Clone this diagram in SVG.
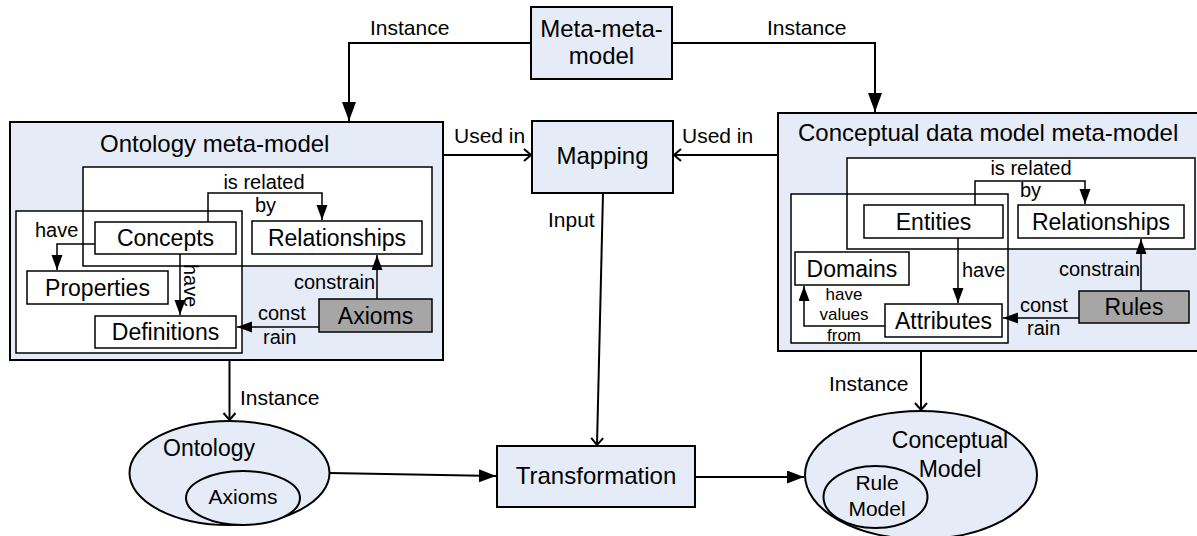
<svg xmlns="http://www.w3.org/2000/svg" width="1197" height="536" viewBox="0 0 1197 536">
  <style>
    .node { fill: #e6ecf7; stroke: #000; stroke-width: 2; }
    .box { fill: #fff; stroke: #000; stroke-width: 1.5; }
    .grey { fill: #a6a6a6; stroke: #000; stroke-width: 1.5; }
    .frame { fill: #fff; stroke: none; }
    .frameline { fill: none; stroke: #000; stroke-width: 1.5; }
    text { font-family: "Liberation Sans", Arial, sans-serif; fill: #000; }
    .big { font-size: 24px; }
    .mid { font-size: 23px; }
    .lbl { font-size: 21px; }
    .sm { font-size: 20px; }
    .xs { font-size: 17px; }
    .m { text-anchor: middle; }
    .c { fill: none; stroke: #000; stroke-width: 2; }
    .ci { fill: none; stroke: #000; stroke-width: 1.5; }
  </style>
  <defs>
    <marker id="arrowBig" markerUnits="userSpaceOnUse" markerWidth="20" markerHeight="16" refX="19" refY="7" orient="auto">
      <path d="M0,0 L19,7 L0,14 z" fill="#000"/>
    </marker>
    <marker id="arrowMed" markerUnits="userSpaceOnUse" markerWidth="18" markerHeight="14" refX="17" refY="6.5" orient="auto">
      <path d="M0,0 L17,6.5 L0,13 z" fill="#000"/>
    </marker>
    <marker id="arrowSm" markerUnits="userSpaceOnUse" markerWidth="16" markerHeight="12" refX="15" refY="5.5" orient="auto">
      <path d="M0,0 L15,5.5 L0,11 z" fill="#000"/>
    </marker>
    <marker id="arrowOpen" markerUnits="userSpaceOnUse" markerWidth="12" markerHeight="16" refX="8" refY="7" orient="auto">
      <path d="M1,1 L8,7 L1,13" fill="none" stroke="#000" stroke-width="2"/>
    </marker>
  </defs>

  <!-- top level meta-meta-model -->
  <g id="meta-meta-model">
    <rect class="node" x="531" y="7" width="141" height="72"/>
    <text class="big m" x="601.5" y="37">Meta-meta-</text>
    <text class="big m" x="601.5" y="64">model</text>
  </g>

  <!-- ontology meta-model container -->
  <g id="ontology-meta-model">
    <rect class="node" x="10" y="122" width="433" height="238"/>
    <text class="big" x="100" y="152">Ontology meta-model</text>
    <rect class="frame" x="83" y="167" width="349" height="99"/>
    <rect class="frame" x="16" y="211" width="226" height="142"/>
    <rect class="frameline" x="83" y="167" width="349" height="99"/>
    <rect class="frameline" x="16" y="211" width="226" height="142"/>
  </g>
  <g id="concepts">
    <rect class="box" x="95" y="222" width="141" height="32"/>
    <text class="mid m" x="165.5" y="246">Concepts</text>
  </g>
  <g id="ont-relationships">
    <rect class="box" x="252" y="221" width="170" height="33"/>
    <text class="mid m" x="337" y="246">Relationships</text>
  </g>
  <g id="properties">
    <rect class="box" x="27" y="271" width="141" height="33"/>
    <text class="mid m" x="97.5" y="296">Properties</text>
  </g>
  <g id="definitions">
    <rect class="box" x="95" y="316" width="141" height="32"/>
    <text class="mid m" x="165.5" y="340">Definitions</text>
  </g>
  <g id="ont-axioms">
    <rect class="grey" x="319" y="299" width="113" height="33"/>
    <text class="mid m" x="375.5" y="324">Axioms</text>
  </g>

  <!-- conceptual data model meta-model container -->
  <g id="cdm-meta-model">
    <rect class="node" x="778" y="113" width="430" height="238"/>
    <text class="big" x="798" y="141">Conceptual data model meta-model</text>
    <rect class="frame" x="847" y="158" width="348" height="91"/>
    <rect class="frame" x="791" y="194" width="217" height="149"/>
    <rect class="frameline" x="847" y="158" width="348" height="91"/>
    <rect class="frameline" x="791" y="194" width="217" height="149"/>
  </g>
  <g id="entities">
    <rect class="box" x="864" y="205" width="139" height="33"/>
    <text class="mid m" x="933.5" y="230">Entities</text>
  </g>
  <g id="cdm-relationships">
    <rect class="box" x="1018" y="205" width="166" height="33"/>
    <text class="mid m" x="1101" y="230">Relationships</text>
  </g>
  <g id="domains">
    <rect class="box" x="795" y="252" width="114" height="33"/>
    <text class="mid m" x="852" y="277">Domains</text>
  </g>
  <g id="attributes">
    <rect class="box" x="885" y="304" width="117" height="33"/>
    <text class="mid m" x="943.5" y="329">Attributes</text>
  </g>
  <g id="rules">
    <rect class="grey" x="1079" y="291" width="110" height="32"/>
    <text class="mid m" x="1134" y="315">Rules</text>
  </g>

  <!-- middle column -->
  <g id="mapping">
    <rect class="node" x="532" y="121" width="141" height="72"/>
    <text class="big m" x="602.5" y="164">Mapping</text>
  </g>
  <g id="transformation">
    <rect class="node" x="497" y="446" width="198" height="61"/>
    <text class="big m" x="596" y="484">Transformation</text>
  </g>

  <!-- model instances -->
  <g id="ontology">
    <ellipse class="node" cx="229.5" cy="473" rx="100" ry="52"/>
    <text class="mid" x="163" y="456">Ontology</text>
    <ellipse class="node" cx="243" cy="498" rx="57" ry="27"/>
    <text class="lbl m" x="243" y="504">Axioms</text>
  </g>
  <g id="conceptual-model">
    <ellipse class="node" cx="921" cy="475" rx="116" ry="64"/>
    <text class="mid m" x="950" y="448">Conceptual</text>
    <text class="mid m" x="950" y="477">Model</text>
    <ellipse class="node" cx="875.5" cy="497" rx="52" ry="31"/>
    <text class="lbl m" x="877" y="490">Rule</text>
    <text class="lbl m" x="877" y="516">Model</text>
  </g>

  <!-- connectors and their labels -->
  <g id="connectors">
    <path class="c" d="M531,43 H349 V121" marker-end="url(#arrowBig)"/>
    <text class="lbl" x="370" y="35">Instance</text>
    <path class="c" d="M672,43 H875 V112" marker-end="url(#arrowBig)"/>
    <text class="lbl" x="767" y="35">Instance</text>

    <path class="c" d="M443,155 H531" marker-end="url(#arrowOpen)"/>
    <text class="lbl" x="454" y="143">Used in</text>
    <path class="c" d="M778,155 H674" marker-end="url(#arrowOpen)"/>
    <text class="lbl" x="682" y="143">Used in</text>

    <path class="c" d="M603,193 L597,445" marker-end="url(#arrowOpen)"/>
    <text class="lbl" x="548" y="227">Input</text>

    <path class="c" d="M229.5,361 V420" marker-end="url(#arrowOpen)"/>
    <text class="lbl" x="240" y="405">Instance</text>
    <path class="c" d="M921,351 V410" marker-end="url(#arrowOpen)"/>
    <text class="lbl" x="829" y="391">Instance</text>

    <path class="c" d="M329.5,473 L496,476" marker-end="url(#arrowMed)"/>
    <path class="c" d="M695,477 H804" marker-end="url(#arrowMed)"/>

    <!-- inside the ontology meta-model -->
    <path class="ci" d="M208,222 V193 H322 V220" marker-end="url(#arrowSm)"/>
    <text class="sm m" x="264" y="189">is related</text>
    <text class="sm" x="255" y="212">by</text>
    <path class="ci" d="M95,244 H57 V270" marker-end="url(#arrowSm)"/>
    <text class="sm" x="35" y="237">have</text>
    <path class="ci" d="M180,254 V315" marker-end="url(#arrowSm)"/>
    <text class="sm" transform="translate(184,264) rotate(90)">have</text>
    <path class="ci" d="M377,299 V255" marker-end="url(#arrowSm)"/>
    <text class="sm" x="294" y="289">constrain</text>
    <path class="ci" d="M319,327 H237" marker-end="url(#arrowSm)"/>
    <text class="sm" x="258" y="320">const</text>
    <text class="sm" x="263" y="344">rain</text>

    <!-- inside the conceptual data model meta-model -->
    <path class="ci" d="M975,205 V181 H1085 V204" marker-end="url(#arrowSm)"/>
    <text class="sm m" x="1031" y="175">is related</text>
    <text class="sm" x="1020" y="197">by</text>
    <path class="ci" d="M958,238 V303" marker-end="url(#arrowSm)"/>
    <text class="sm" x="962" y="277">have</text>
    <path class="ci" d="M885,326 H804 V286" marker-end="url(#arrowSm)"/>
    <text class="xs m" x="844" y="300">have</text>
    <text class="xs m" x="844" y="320">values</text>
    <text class="xs m" x="844" y="341">from</text>
    <path class="ci" d="M1141,291 V239" marker-end="url(#arrowSm)"/>
    <text class="sm" x="1059" y="276">constrain</text>
    <path class="ci" d="M1079,318 H1003" marker-end="url(#arrowSm)"/>
    <text class="sm" x="1020" y="312">const</text>
    <text class="sm" x="1027" y="335">rain</text>
  </g>
</svg>
